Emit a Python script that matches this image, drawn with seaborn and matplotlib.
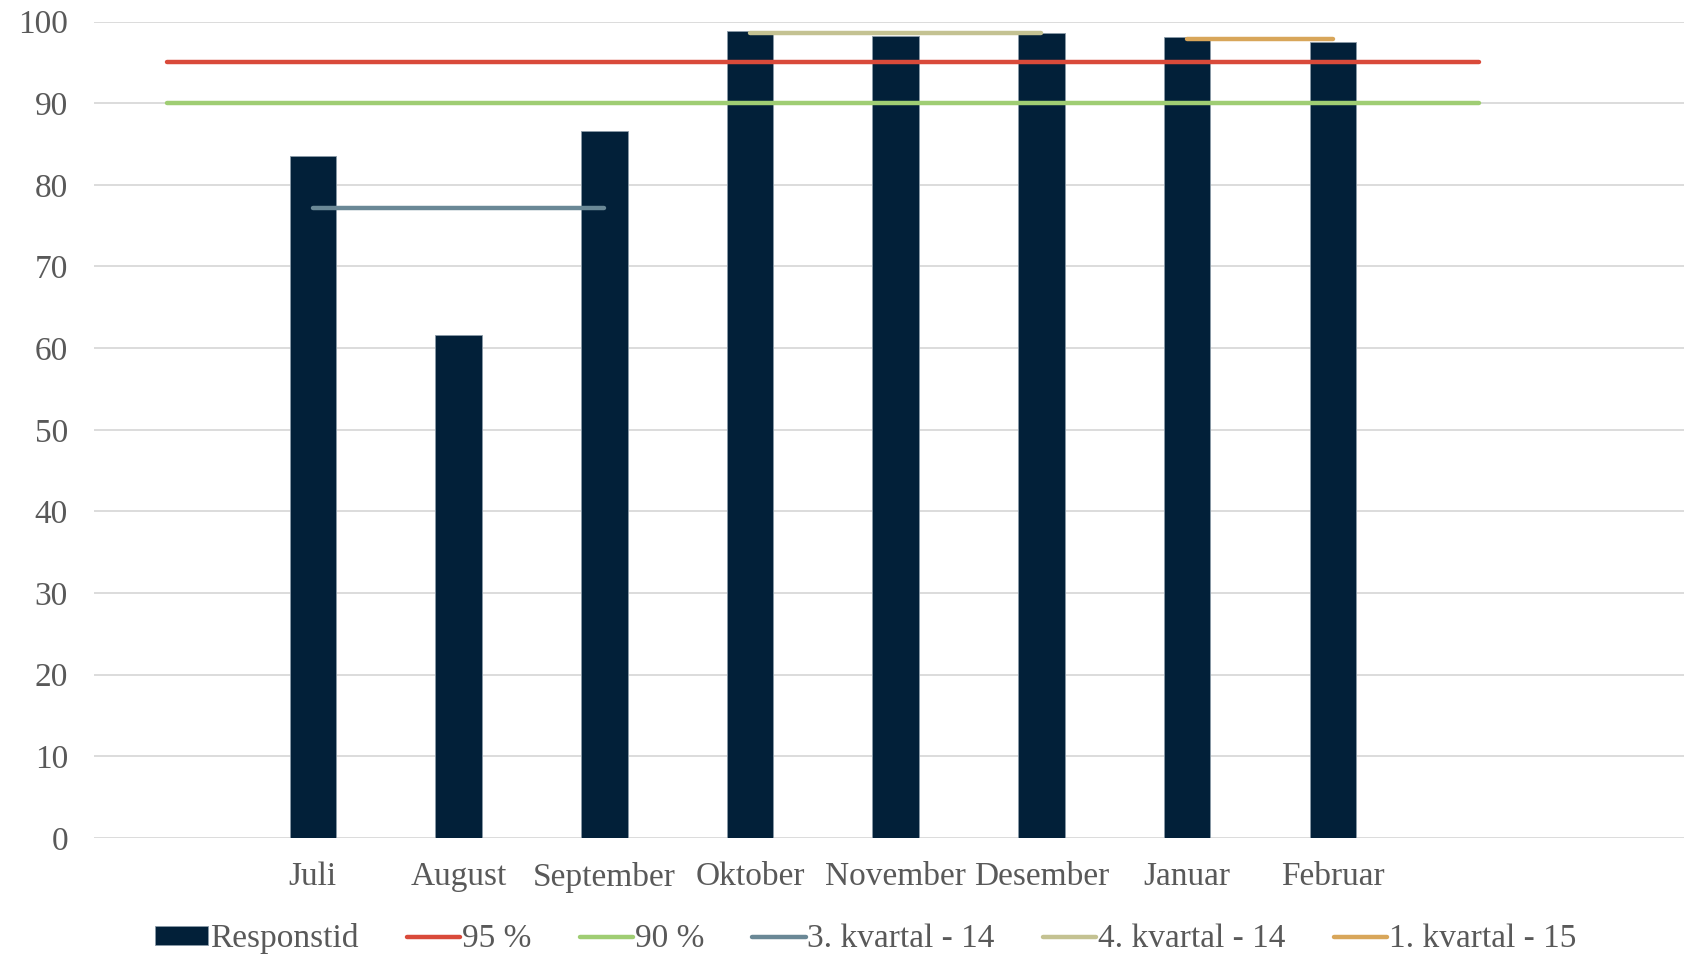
import numpy as np
import pandas as pd
import seaborn as sns
import matplotlib.pyplot as plt

sns.set_style("white")
plt.rcParams['font.family'] = ['Liberation Serif', 'DejaVu Serif']

# category slots on the x axis (blank slots at the ends, as in the original)
slots = ["", "Juli", "August", "September", "Oktober", "November",
         "Desember", "Januar", "Februar", " ", "  "]
months = ["Juli", "August", "September", "Oktober", "November",
          "Desember", "Januar", "Februar"]
responstid = [83.5, 61.6, 86.6, 98.8, 98.2, 98.6, 98.1, 97.5]

target_labels = ["95 %", "90 %"]
target_values = [95, 90]
target_span = ["", " "]  # first and last slot the target lines cover

quarter_labels = ["3. kvartal - 14", "4. kvartal - 14", "1. kvartal - 15"]
quarter_values = [77.2, 98.6, 97.8]
quarter_start = ["Juli", "Oktober", "Januar"]
quarter_end = ["September", "Desember", "Februar"]

bar_color = "#022039"
target_colors = ["#d94a3a", "#9fcd73"]
quarter_colors = ["#6a8896", "#c4c292", "#d8a65a"]
text_color = "#595959"
fs = 24

df = pd.DataFrame({"month": months, "value": responstid})

fig = plt.figure(figsize=(16.84, 9.56), dpi=100)
ax = fig.add_axes([0.056, 0.1234, 0.944, 0.8541])

sns.barplot(data=df, x="month", y="value", order=slots, color=bar_color,
            width=0.32, saturation=1, edgecolor="#8a9aa8", linewidth=0.6,
            ax=ax, label="Responstid")

pos = {s: i for i, s in enumerate(slots)}
for lab, val, col in zip(target_labels, target_values, target_colors):
    x = [pos[target_span[0]], pos[target_span[1]]]
    sns.lineplot(x=x, y=[val, val], color=col, lw=3.2, ax=ax, label=lab,
                 solid_capstyle="round")
for lab, val, s, e, col in zip(quarter_labels, quarter_values, quarter_start,
                               quarter_end, quarter_colors):
    x = [pos[s], pos[e]]
    sns.lineplot(x=x, y=[val, val], color=col, lw=3.2, ax=ax, label=lab,
                 solid_capstyle="round")

ax.set_ylim(0, 100)
ax.set_xlim(-0.5, 10.41)
ax.set_yticks(np.arange(0, 101, 10))
ax.set_xticks(range(len(slots)))
ax.set_xticklabels(slots)
ax.yaxis.grid(True, color="#d9d9d9", lw=1.3)
ax.set_axisbelow(True)
for sp in ax.spines.values():
    sp.set_visible(False)
ax.tick_params(axis="both", length=0, labelsize=fs, colors=text_color)
ax.tick_params(axis="x", pad=17)
ax.tick_params(axis="y", pad=19)
ax.set_xlabel("")
ax.set_ylabel("")

handles, labels = ax.get_legend_handles_labels()
# bars first, like the original legend
handles = handles[-1:] + handles[:-1]
labels = labels[-1:] + labels[:-1]
ax.legend(handles, labels, ncol=6, frameon=False, loc="center",
          bbox_to_anchor=(0.514, 0.018), bbox_transform=fig.transFigure,
          fontsize=fs, labelcolor=text_color, handlelength=1.6,
          handleheight=0.5, handletextpad=0.05, columnspacing=1.45)

fig.savefig("out.png", dpi=100)
